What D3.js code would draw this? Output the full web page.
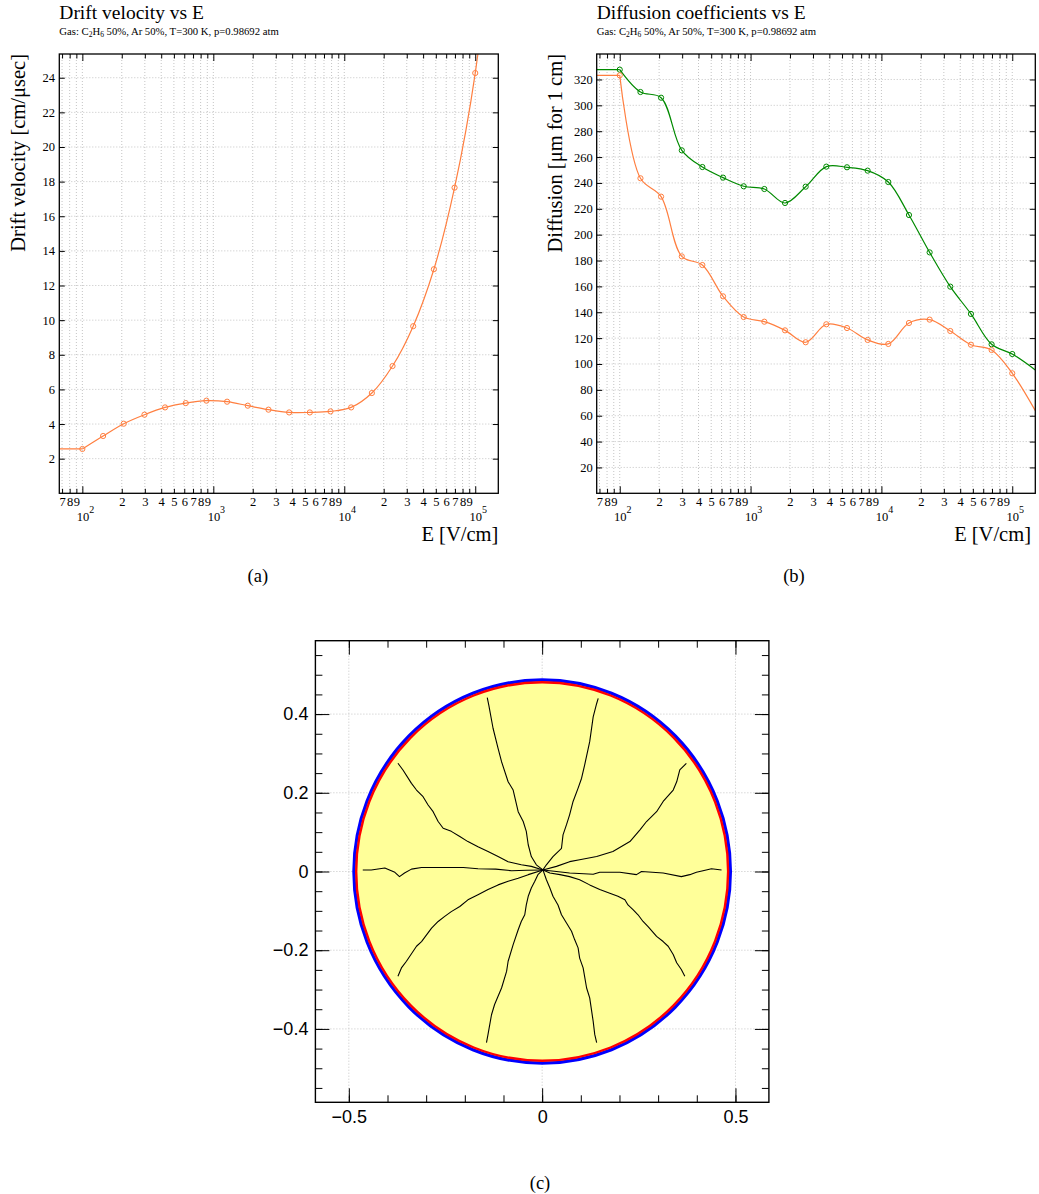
<!DOCTYPE html>
<html>
<head>
<meta charset="utf-8">
<script src="https://cdn.jsdelivr.net/npm/d3@7/dist/d3.min.js"></script>
<style>
html,body{margin:0;padding:0;background:#fff;}
svg{display:block;}
</style>
</head>
<body>
<svg id="chart" width="1039" height="1194" xmlns="http://www.w3.org/2000/svg"></svg>
<script>
// ---------------- data ----------------
const eField = [100, 144, 207, 298, 428, 616, 886, 1274, 1833, 2637, 3793, 5456, 7848, 11288, 16238, 23357, 33598, 48329, 69519, 100000];
const driftVelocity = [2.56, 3.31, 4.02, 4.54, 4.96, 5.21, 5.35, 5.29, 5.06, 4.83, 4.67, 4.67, 4.73, 4.96, 5.79, 7.35, 9.65, 12.94, 17.65, 24.27];
const diffusionLong = [327.6, 310.3, 305.9, 265.2, 252.3, 244.1, 237.4, 235.3, 224.5, 237.1, 252.6, 252.1, 249.5, 240.7, 215.2, 186.3, 159.8, 138.7, 115.2, 107.7];
const diffusionTrans = [323.2, 243.6, 229.4, 183.2, 176.5, 152.3, 136.3, 132.7, 126.0, 116.8, 130.7, 127.8, 118.6, 115.5, 131.7, 134.3, 125.5, 114.9, 110.8, 92.8];
// curve values where the plotted curves meet the right edge of the frame
const driftAtRangeEnd = 36;
const diffLongAtRangeEnd = 95.4;
const diffTransAtRangeEnd = 63.9;

const eRange = [66.67, 150000];
const eTicks = [70, 80, 90, 100, 200, 300, 400, 500, 600, 700, 800, 900, 1000,
  2000, 3000, 4000, 5000, 6000, 7000, 8000, 9000, 10000,
  20000, 30000, 40000, 50000, 60000, 70000, 80000, 90000, 100000];
const driftRange = [0, 25.37];
const driftTicks = [2, 4, 6, 8, 10, 12, 14, 16, 18, 20, 22, 24];
const diffRange = [0, 339.7];
const diffTicks = [20, 40, 60, 80, 100, 120, 140, 160, 180, 200, 220, 240, 260, 280, 300, 320];

const gasParts = [["Gas: C", false], ["2", true], ["H", false], ["6", true], [" 50%, Ar 50%, T=300 K, p=0.98692 atm", false]];

// panel (c): drift lines of electrons towards the wire
const cRange = [-0.5865, 0.5865];
const cXTicks = [-0.5, 0, 0.5];
const cYTicks = [-0.4, -0.2, 0, 0.2, 0.4];
const tubeRadius = 0.487;
const wireEdgeRadius = 0.481;
const driftTracks = [
  [[0.464,0.004],[0.438,0.007],[0.416,0.002],[0.399,-0.002],[0.382,-0.008],[0.360,-0.013],[0.313,-0.004],[0.257,0.000],[0.244,-0.008],[0.201,-0.002],[0.149,-0.002],[0.132,-0.007],[0.071,-0.004],[0.037,0.000],[0.002,0.004]],
  [[0.373,0.275],[0.356,0.258],[0.348,0.228],[0.339,0.207],[0.313,0.178],[0.296,0.152],[0.270,0.127],[0.253,0.106],[0.227,0.076],[0.183,0.051],[0.141,0.038],[0.097,0.030],[0.071,0.025],[0.037,0.013],[0.002,0.004]],
  [[0.145,0.440],[0.141,0.427],[0.132,0.393],[0.123,0.330],[0.110,0.271],[0.102,0.237],[0.093,0.212],[0.080,0.178],[0.071,0.144],[0.063,0.119],[0.054,0.093],[0.050,0.059],[0.028,0.038],[0.011,0.017],[0.002,0.004]],
  [[-0.142,0.442],[-0.138,0.423],[-0.127,0.364],[-0.114,0.313],[-0.105,0.279],[-0.088,0.228],[-0.075,0.207],[-0.062,0.152],[-0.049,0.127],[-0.041,0.102],[-0.036,0.068],[-0.028,0.038],[-0.015,0.017],[0.002,0.004]],
  [[-0.373,0.275],[-0.360,0.258],[-0.338,0.224],[-0.325,0.207],[-0.308,0.190],[-0.295,0.169],[-0.282,0.152],[-0.269,0.127],[-0.256,0.110],[-0.235,0.102],[-0.213,0.089],[-0.192,0.076],[-0.166,0.063],[-0.140,0.051],[-0.114,0.038],[-0.088,0.025],[-0.054,0.017],[-0.028,0.013],[0.002,0.004]],
  [[-0.464,0.004],[-0.442,0.004],[-0.407,0.009],[-0.381,-0.002],[-0.369,-0.013],[-0.356,-0.004],[-0.338,0.006],[-0.312,0.010],[-0.252,0.010],[-0.204,0.010],[-0.166,0.007],[-0.120,0.006],[-0.079,0.002],[-0.040,0.003],[0.002,0.004]],
  [[-0.373,-0.266],[-0.364,-0.245],[-0.351,-0.228],[-0.325,-0.190],[-0.312,-0.178],[-0.299,-0.161],[-0.286,-0.144],[-0.269,-0.127],[-0.252,-0.114],[-0.235,-0.102],[-0.213,-0.089],[-0.192,-0.072],[-0.166,-0.059],[-0.140,-0.046],[-0.114,-0.034],[-0.088,-0.025],[-0.062,-0.017],[-0.036,-0.008],[0.002,0.004]],
  [[-0.144,-0.435],[-0.140,-0.414],[-0.131,-0.364],[-0.123,-0.338],[-0.105,-0.296],[-0.092,-0.254],[-0.088,-0.228],[-0.075,-0.186],[-0.062,-0.148],[-0.054,-0.127],[-0.045,-0.110],[-0.041,-0.085],[-0.036,-0.063],[-0.028,-0.042],[-0.019,-0.025],[-0.011,-0.008],[0.002,0.004]],
  [[0.141,-0.435],[0.136,-0.414],[0.132,-0.381],[0.123,-0.321],[0.115,-0.296],[0.106,-0.245],[0.097,-0.220],[0.093,-0.194],[0.084,-0.173],[0.076,-0.152],[0.063,-0.131],[0.050,-0.110],[0.041,-0.085],[0.028,-0.063],[0.020,-0.042],[0.011,-0.021],[0.002,0.004]],
  [[0.369,-0.266],[0.360,-0.249],[0.348,-0.232],[0.339,-0.211],[0.326,-0.190],[0.313,-0.178],[0.296,-0.165],[0.274,-0.140],[0.261,-0.127],[0.248,-0.110],[0.235,-0.097],[0.222,-0.085],[0.214,-0.072],[0.196,-0.063],[0.175,-0.055],[0.149,-0.046],[0.123,-0.034],[0.097,-0.021],[0.071,-0.013],[0.046,-0.008],[0.020,-0.004],[0.002,0.004]]
];

// ---------------- drawing ----------------
const svg = d3.select("#chart");
svg.append("rect").attr("width", 1039).attr("height", 1194).attr("fill", "#fff");
const serif = "'Liberation Serif','Times New Roman',Times,serif";
const sans = "'Liberation Sans',Arial,Helvetica,sans-serif";
const ORANGE = "#ff7f40";
const GREEN = "#008a00";
const GRID = "#c4c4c4";

function styleAxis(g, font, size) {
  g.attr("font-family", font).attr("font-size", size);
  g.select(".domain").remove();
  g.selectAll(".tick line").attr("stroke", "#000").attr("stroke-width", 1);
  g.selectAll(".tick text").attr("fill", "#000");
}

function logPanel(cfg) {
  const { id, L, T, R, B } = cfg;
  const x = d3.scaleLog().domain(eRange).range([L, R]);
  const y = d3.scaleLinear().domain(cfg.yRange).range([B, T]);
  const g = svg.append("g");

  svg.append("clipPath").attr("id", id + "clip")
    .append("rect").attr("x", L).attr("y", T).attr("width", R - L).attr("height", B - T);

  // grid
  g.append("g").selectAll("line").data(eTicks).join("line")
    .attr("x1", d => x(d)).attr("x2", d => x(d)).attr("y1", T).attr("y2", B)
    .attr("stroke", GRID).attr("stroke-dasharray", "1,2").attr("stroke-width", 1);
  g.append("g").selectAll("line").data(cfg.yTicks).join("line")
    .attr("x1", L).attr("x2", R).attr("y1", d => y(d)).attr("y2", d => y(d))
    .attr("stroke", GRID).attr("stroke-dasharray", "1,2").attr("stroke-width", 1);

  // series
  const line = d3.line().curve(d3.curveCatmullRom.alpha(0.5));
  cfg.series.forEach(s => {
    const sg = g.append("g").attr("clip-path", `url(#${id}clip)`);
    sg.append("line")
      .attr("x1", x(eRange[0])).attr("x2", x(eField[0]))
      .attr("y1", y(s.values[0])).attr("y2", y(s.values[0]))
      .attr("stroke", s.color).attr("stroke-width", 1.2);
    const pts = eField.map((e, i) => [x(e), y(s.values[i])]);
    pts.push([x(eRange[1]), y(s.end)]);
    sg.append("path").attr("d", line(pts)).attr("fill", "none")
      .attr("stroke", s.color).attr("stroke-width", 1.2);
    sg.selectAll("circle").data(eField).join("circle")
      .attr("cx", d => x(d)).attr("cy", (d, i) => y(s.values[i])).attr("r", 2.6)
      .attr("fill", "none").attr("stroke", s.color).attr("stroke-width", 1);
  });

  // axes
  const isDecade = d => Math.abs(Math.log10(d) - Math.round(Math.log10(d))) < 1e-9;
  const fmt = d => {
    const p = Math.floor(Math.log10(d) + 1e-9);
    return String(Math.round(d / Math.pow(10, p)));
  };
  const xb = g.append("g").attr("transform", `translate(0,${B})`)
    .call(d3.axisBottom(x).tickValues(eTicks).tickSize(-4.5).tickPadding(3.8).tickFormat(fmt));
  styleAxis(xb, serif, 12.5);
  xb.selectAll(".tick").filter(isDecade).each(function (d) {
    const t = d3.select(this);
    t.select("line").attr("y2", -7);
    const p = Math.round(Math.log10(d));
    const txt = t.select("text").text("10").attr("text-anchor", "start").attr("x", -6.2).attr("y", 18.8);
    txt.append("tspan").attr("font-size", 10).attr("dy", "-8").text(p);
  });
  const xt = g.append("g").attr("transform", `translate(0,${T})`)
    .call(d3.axisTop(x).tickValues(eTicks).tickSize(-4.5).tickFormat(""));
  styleAxis(xt, serif, 12.5);
  xt.selectAll(".tick").filter(isDecade).select("line").attr("y2", 7);

  const yl = g.append("g").attr("transform", `translate(${L},0)`)
    .call(d3.axisLeft(y).tickValues(cfg.yTicks).tickSize(-5.5).tickPadding(cfg.yPad));
  styleAxis(yl, serif, 12.5);
  const yr = g.append("g").attr("transform", `translate(${R},0)`)
    .call(d3.axisRight(y).tickValues(cfg.yTicks).tickSize(-5.5).tickFormat(""));
  styleAxis(yr, serif, 12.5);

  // frame
  g.append("rect").attr("x", L).attr("y", T).attr("width", R - L).attr("height", B - T)
    .attr("fill", "none").attr("stroke", "#000").attr("stroke-width", 1.3);

  // titles
  g.append("text").attr("x", L).attr("y", 18.5).attr("font-family", serif).attr("font-size", 19.5)
    .text(cfg.title);
  const sub = g.append("text").attr("x", L).attr("y", 36.5).attr("font-family", serif).attr("font-size", 10.7);
  gasParts.forEach(([t, isSub]) => {
    if (isSub) sub.append("tspan").attr("font-size", 7.5).attr("dy", 2).text(t);
    else sub.append("tspan").attr("dy", sub.selectAll("tspan").size() ? -2 : 0).text(t);
  });
  g.append("text").attr("transform", `translate(${cfg.yLabelX},${T}) rotate(-90)`)
    .attr("text-anchor", "end").attr("font-family", serif).attr("font-size", 20.5)
    .text(cfg.yLabel);
  g.append("text").attr("x", cfg.xLabelR).attr("y", 540.7).attr("text-anchor", "end")
    .attr("font-family", serif).attr("font-size", 20.5).text("E [V/cm]");
  g.append("text").attr("x", (L + R) / 2 + cfg.capDx).attr("y", 582).attr("text-anchor", "middle")
    .attr("font-family", serif).attr("font-size", 18.5).text(cfg.caption);
}

logPanel({
  id: "pa", L: 59.3, T: 54, R: 498.3, B: 493.3,
  yRange: driftRange, yTicks: driftTicks, yPad: 4.3,
  title: "Drift velocity vs E", yLabel: "Drift velocity [cm/\u03bcsec]", yLabelX: 24.5,
  xLabelR: 498.3, caption: "(a)", capDx: -21,
  series: [{ values: driftVelocity, end: driftAtRangeEnd, color: ORANGE }]
});
logPanel({
  id: "pb", L: 596.7, T: 54, R: 1035.3, B: 493.3,
  yRange: diffRange, yTicks: diffTicks, yPad: 4,
  title: "Diffusion coefficients vs E", yLabel: "Diffusion [\u03bcm for 1 cm]", yLabelX: 561.5,
  xLabelR: 1031, caption: "(b)", capDx: -22,
  series: [
    { values: diffusionLong, end: diffLongAtRangeEnd, color: GREEN },
    { values: diffusionTrans, end: diffTransAtRangeEnd, color: ORANGE }
  ]
});

// ---------------- panel (c) ----------------
(function () {
  const L = 315.4, R = 768.9, T = 640.7, B = 1102.3;
  const x = d3.scaleLinear().domain(cRange).range([L, R]);
  const y = d3.scaleLinear().domain(cRange).range([B, T]);
  const g = svg.append("g");
  svg.append("clipPath").attr("id", "pcclip")
    .append("rect").attr("x", L).attr("y", T).attr("width", R - L).attr("height", B - T);

  g.append("g").selectAll("line").data(cXTicks).join("line")
    .attr("x1", d => x(d)).attr("x2", d => x(d)).attr("y1", T).attr("y2", B)
    .attr("stroke", GRID).attr("stroke-dasharray", "1,2");
  g.append("g").selectAll("line").data(cYTicks).join("line")
    .attr("x1", L).attr("x2", R).attr("y1", d => y(d)).attr("y2", d => y(d))
    .attr("stroke", GRID).attr("stroke-dasharray", "1,2");

  g.append("ellipse").attr("cx", x(0)).attr("cy", y(0))
    .attr("rx", x(tubeRadius) - x(0)).attr("ry", y(0) - y(tubeRadius))
    .attr("fill", "#ffff99").attr("stroke", "#0000ff").attr("stroke-width", 3.2);
  g.append("ellipse").attr("cx", x(0)).attr("cy", y(0))
    .attr("rx", x(wireEdgeRadius) - x(0)).attr("ry", y(0) - y(wireEdgeRadius))
    .attr("fill", "none").attr("stroke", "#ff0000").attr("stroke-width", 2.4);

  const line = d3.line().x(d => x(d[0])).y(d => y(d[1]));
  g.append("g").attr("clip-path", "url(#pcclip)").selectAll("path").data(driftTracks).join("path")
    .attr("d", line).attr("fill", "none").attr("stroke", "#000")
    .attr("stroke-width", 1.1).attr("stroke-linejoin", "round");

  const fmt = d => d === 0 ? "0" : (d < 0 ? "\u2212" : "") + Math.abs(d);
  const xMinor = d3.range(-5, 6).map(i => i / 10);
  const yMinor = d3.range(-11, 12).map(i => i / 20);

  const ab = g.append("g").attr("transform", `translate(0,${B})`)
    .call(d3.axisBottom(x).tickValues(xMinor).tickSize(-7).tickFormat(""));
  styleAxis(ab, sans, 18);
  const abM = g.append("g").attr("transform", `translate(0,${B})`)
    .call(d3.axisBottom(x).tickValues(cXTicks).tickSize(-14).tickPadding(8).tickFormat(fmt));
  styleAxis(abM, sans, 18);
  abM.selectAll(".tick line").attr("y2", -14);
  abM.selectAll(".tick text").attr("y", 8);
  const at = g.append("g").attr("transform", `translate(0,${T})`)
    .call(d3.axisTop(x).tickValues(xMinor).tickSize(-7).tickFormat(""));
  styleAxis(at, sans, 18);
  const atM = g.append("g").attr("transform", `translate(0,${T})`)
    .call(d3.axisTop(x).tickValues(cXTicks).tickSize(-14).tickFormat(""));
  styleAxis(atM, sans, 18);

  const al = g.append("g").attr("transform", `translate(${L},0)`)
    .call(d3.axisLeft(y).tickValues(yMinor).tickSize(-7).tickFormat(""));
  styleAxis(al, sans, 18);
  const alM = g.append("g").attr("transform", `translate(${L},0)`)
    .call(d3.axisLeft(y).tickValues(cYTicks).tickSize(-14).tickPadding(7).tickFormat(fmt));
  styleAxis(alM, sans, 18);
  alM.selectAll(".tick text").attr("x", -7);
  const ar = g.append("g").attr("transform", `translate(${R},0)`)
    .call(d3.axisRight(y).tickValues(yMinor).tickSize(-7).tickFormat(""));
  styleAxis(ar, sans, 18);
  const arM = g.append("g").attr("transform", `translate(${R},0)`)
    .call(d3.axisRight(y).tickValues(cYTicks).tickSize(-14).tickFormat(""));
  styleAxis(arM, sans, 18);

  g.append("rect").attr("x", L).attr("y", T).attr("width", R - L).attr("height", B - T)
    .attr("fill", "none").attr("stroke", "#000").attr("stroke-width", 1.4);

  g.append("text").attr("x", 540).attr("y", 1189).attr("text-anchor", "middle")
    .attr("font-family", serif).attr("font-size", 18.5).text("(c)");
})();
</script>
</body>
</html>
